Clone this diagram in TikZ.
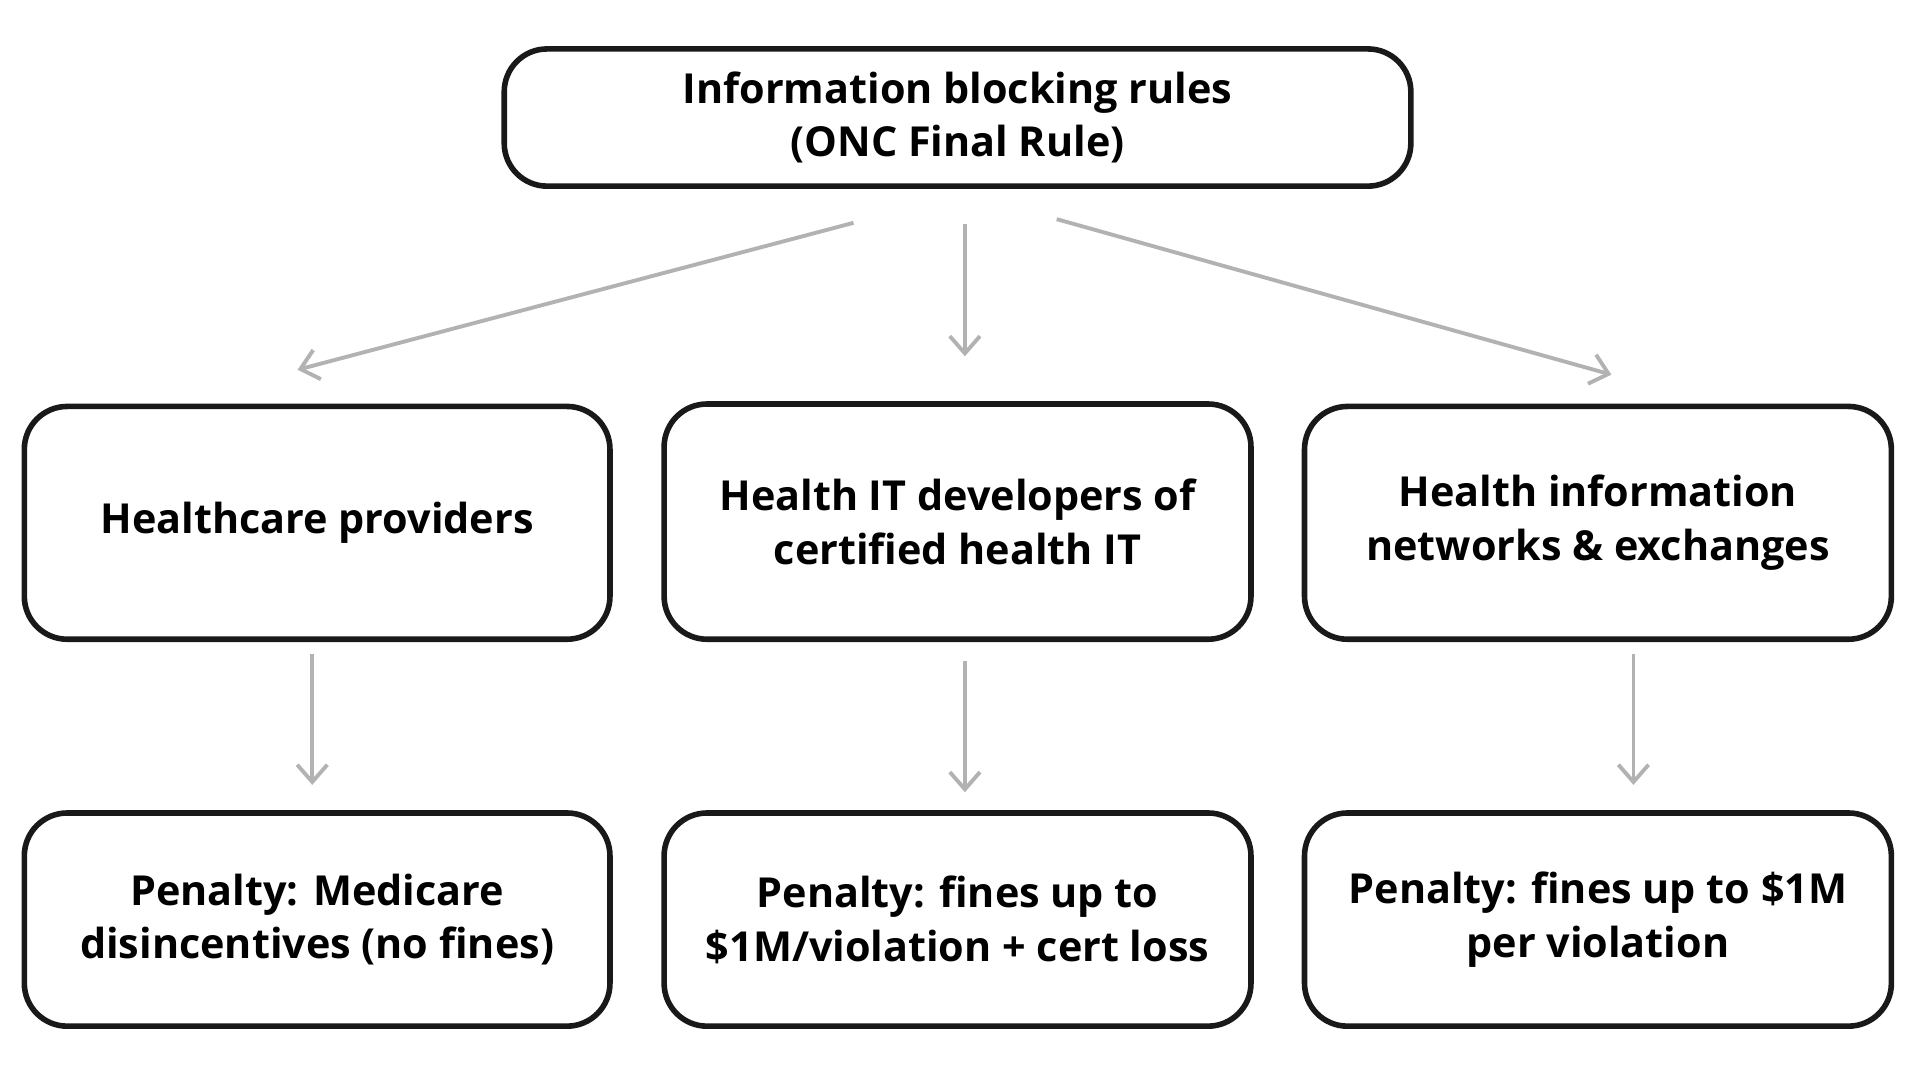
\documentclass[tikz,border=0pt]{standalone}
\usepackage{fontspec}
\setmainfont{Open Sans}
\usetikzlibrary{arrows.meta}
\begin{document}
\begin{tikzpicture}[x=0.01cm,y=-0.01cm,
 box/.style={draw=black!90,line width=1.3pt,rounded corners=0.35cm,align=center,font=\bfseries\fontsize{9.6}{12.5}\selectfont,inner sep=0pt},
 conn/.style={draw=black!30,line width=0.9pt,-{Straight Barb[length=4pt,width=7pt]}}]
\useasboundingbox (0,0) rectangle (1568,880);
\node[box,minimum width=740\pgflinewidth] (top) at (782,96) [minimum width=7.4cm,minimum height=1.12cm] {Information blocking rules\\(ONC Final Rule)};
\node[box,minimum width=4.78cm,minimum height=1.9cm] (a) at (259,427) {Healthcare providers};
\node[box,minimum width=4.79cm,minimum height=1.92cm] (b) at (782,426) {Health IT developers of\\certified health IT};
\node[box,minimum width=4.79cm,minimum height=1.9cm] (c) at (1305,427) {Health information\\networks \& exchanges};
\node[box,minimum width=4.78cm,minimum height=1.74cm] (d) at (259,751) {Penalty: Medicare\\disincentives (no fines)};
\node[box,minimum width=4.79cm,minimum height=1.74cm] (e) at (782,751) {Penalty: fines up to\\\$1M/violation + cert loss};
\node[box,minimum width=4.79cm,minimum height=1.74cm] (f) at (1305,751) {Penalty: fines up to \$1M\\per violation};
\coordinate (s1) at (697,182); \coordinate (t1) at (243,302);
\coordinate (s2) at (788,183); \coordinate (t2) at (788,291);
\coordinate (s3) at (863,179); \coordinate (t3) at (1316,306);
\coordinate (s4) at (255,534); \coordinate (t4) at (255,641);
\coordinate (s5) at (788,540); \coordinate (t5) at (788,647);
\coordinate (s6) at (1334,534); \coordinate (t6) at (1334,641);
\foreach \i in {1,...,6} \draw[conn] (s\i) -- (t\i);
\end{tikzpicture}
\end{document}
